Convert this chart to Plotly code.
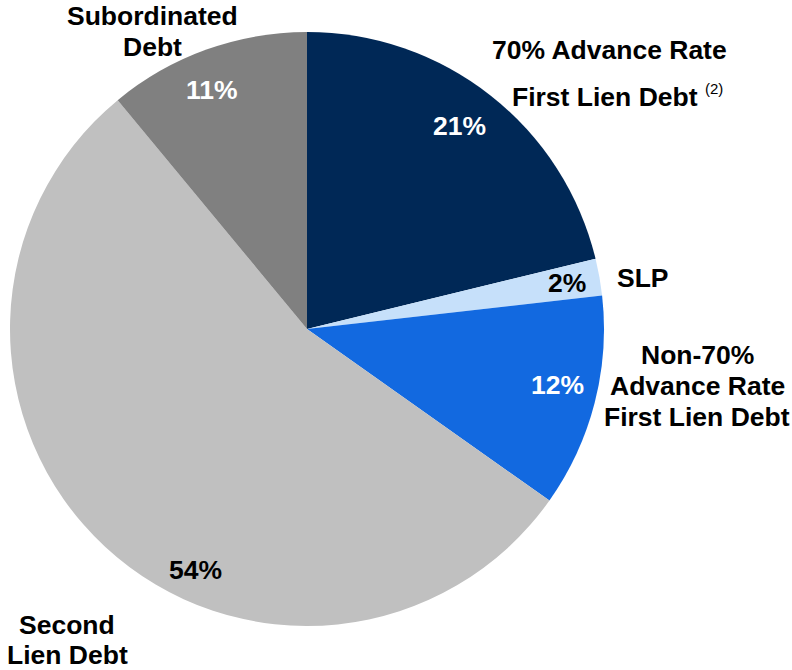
import plotly.graph_objects as go

categories = ["70% Advance Rate First Lien Debt", "SLP",
              "Non-70% Advance Rate First Lien Debt", "Second Lien Debt",
              "Subordinated Debt"]
values = [21.2, 2.0, 11.6, 54.2, 11.0]
pct_labels = ["21%", "2%", "12%", "54%", "11%"]
colors = ["#002856", "#c6e0fa", "#1269e0", "#c0c0c0", "#808080"]
pct_colors = ["white", "black", "white", "black", "white"]

W, H = 792, 670
cx, cy, r = 307, 329, 297

fig = go.Figure(go.Pie(
    labels=categories, values=values, sort=False, direction="clockwise",
    rotation=0, marker=dict(colors=colors, line=dict(width=0)),
    textinfo="none", hoverinfo="label+percent", showlegend=False,
    domain=dict(x=[(cx - r) / W, (cx + r) / W], y=[1 - (cy + r) / H, 1 - (cy - r) / H]),
))

FONT = "Liberation Sans, Arial, sans-serif"
FS = 26.5

def ann(text, px, py, size=FS, color="black", weight="bold"):
    fig.add_annotation(text=text, x=px / W, y=1 - py / H,
                       xref="paper", yref="paper",
                       showarrow=False, xanchor="center", yanchor="middle",
                       font=dict(family=FONT, size=size, color=color, weight=weight))

pct_pos = [(459, 126), (567, 283), (557, 385), (195, 570), (212, 90)]
for t, (px, py), c in zip(pct_labels, pct_pos, pct_colors):
    ann(t, px, py, color=c)

ann("70% Advance Rate", 609, 50)
ann("First Lien Debt", 605, 97)
ann("(2)", 714, 88, size=15, weight="normal")
ann("SLP", 643, 278)
ann("Non-70%", 697, 355)
ann("Advance Rate", 697, 386)
ann("First Lien Debt", 697, 417)
ann("Second", 67, 625)
ann("Lien Debt", 67, 655)
ann("Subordinated", 152, 16)
ann("Debt", 152, 47)

fig.update_layout(width=W, height=H, margin=dict(l=0, r=0, t=0, b=0),
                  paper_bgcolor="white", plot_bgcolor="white")
fig.write_html("out.html", config={"displayModeBar": False},
               post_script="document.body.style.margin='0';document.body.style.overflow='hidden';")
